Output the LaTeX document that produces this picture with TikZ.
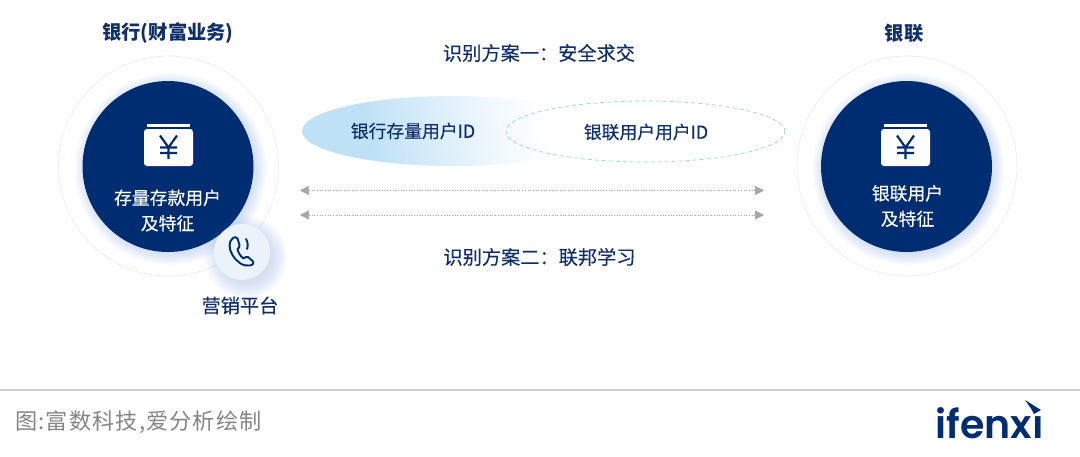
\documentclass[tikz,border=0pt]{standalone}
\usepackage{fontspec}
\setmainfont{Noto Sans CJK SC}
\newfontfamily\logofont{Poppins SemiBold}
\newfontfamily\footfont[LetterSpace=5]{Noto Sans CJK SC}
\newfontfamily\medfont[FakeBold=0.25]{Noto Sans CJK SC}
\usetikzlibrary{arrows.meta,shapes.geometric}
\definecolor{navy}{HTML}{002D72}
\definecolor{inkblue}{HTML}{0F2F6C}
\definecolor{glow}{HTML}{4F86EE}
\definecolor{ringgray}{HTML}{ECEEF2}
\definecolor{skyA}{HTML}{BFE1F6}
\definecolor{dashblue}{HTML}{8FD0F0}
\definecolor{arrowgray}{HTML}{A6A6A6}
\definecolor{phonebg}{HTML}{EBF2FA}
\pgfdeclarehorizontalshading{idfade}{100bp}{color(0bp)=(skyA); color(34bp)=(skyA); color(46bp)=(skyA!60!white); color(58bp)=(skyA!22!white); color(68bp)=(white); color(100bp)=(white)}
\tikzset{
  x=1pt,y=-1pt,
  ring/.style={circle,draw=ringgray,line width=.7pt,minimum size=220pt,inner sep=0pt},
  disc/.style={circle,fill=navy,minimum size=171pt,inner sep=0pt},
  title/.style={text=inkblue,font=\fontsize{19.3}{22}\selectfont\bfseries,inner sep=0pt},
  label/.style={text=inkblue,font=\medfont\fontsize{19.2}{22}\selectfont,inner sep=0pt},
  idtext/.style={text=inkblue,font=\medfont\fontsize{17.8}{20}\selectfont,inner sep=0pt},
  disctext/.style={text=white,font=\medfont\fontsize{17.8}{25.5}\selectfont,align=center,inner sep=0pt},
  biarrow/.style={{Triangle[length=9pt,width=9pt]}-{Triangle[length=9pt,width=9pt]},draw=arrowgray,fill=arrowgray,line width=.7pt,dotted},
  footer/.style={text=black!48,font=\footfont\fontsize{22.2}{24}\selectfont,inner sep=0pt}
}
\newcommand{\softglow}[4]{%
  \foreach \k in {1,...,12}{\fill[glow,opacity=0.02] (#1,#2) circle ({#3+\k*#4});}}
\newcommand{\walleticon}[2]{%
  \fill[white,rounded corners=3pt] (#1-24.5,#2-18) rectangle (#1+24.5,#2+19);
  \fill[white] (#1-21.5,#2-23) rectangle (#1+21.5,#2-20.5);
  \draw[navy,line width=2.2pt] (#1-8.5,#2-11.5) -- (#1,#2+.5) -- (#1+8.5,#2-11.5)
    (#1,#2+.5) -- (#1,#2+12) (#1-8.5,#2+.5) -- (#1+8.5,#2+.5) (#1-8.5,#2+6) -- (#1+8.5,#2+6);}
\begin{document}
\begin{tikzpicture}
\useasboundingbox (0,0) rectangle (1080,456);
\fill[white] (0,0) rectangle (1080,456);
% left group
\node[ring] (ringL) at (168.5,166) {};
\softglow{170.5}{169}{83}{1.1}
\node[disc] (discL) at (168,166.5) {};
\walleticon{168.5}{147}
\node[disctext] (textL) at (167.5,210.5) {存量存款用户\\及特征};
\node[title] (titleL) at (168,33) {银行(财富业务)};
% phone
\softglow{246}{257}{25}{1.4}
\node[circle,fill=phonebg,minimum size=56pt,inner sep=0pt] (phone) at (242,252) {};
\draw[navy,line width=1.9pt,line join=round,line cap=round]
  (233,238) .. controls (228.5,241) and (228.5,249) .. (232.5,255)
  .. controls (236,261) and (243,267) .. (250,265.5)
  .. controls (253.5,265) and (254.5,262) .. (252,260.5)
  -- (248,257) .. controls (246,256) and (245,258) .. (243.5,258.5)
  .. controls (240,256) and (238,252) .. (237.5,249)
  .. controls (238.5,248) and (240,247) .. (239.5,245)
  -- (237.5,238.5) .. controls (236.5,236.5) and (234.5,237) .. (233,238);
\draw[navy,line width=1.9pt,line cap=round] (246,239) .. controls (248,242) and (248,246) .. (247,249);
\node[label] (mkt) at (240,305.5) {营销平台};
% right group
\node[ring] (ringR) at (907,166) {};
\softglow{908.5}{169}{83}{1.1}
\node[disc] (discR) at (906.5,166.5) {};
\walleticon{905.5}{147}
\node[disctext] (textR) at (907.5,206) {银联用户\\及特征};
\node[title] (titleR) at (904,33) {银联};
% id ellipses
\begin{scope}
\clip (453,131) ellipse (151 and 35);
\shade[shading=idfade,shading angle=12] (302,96) rectangle (604,166);
\end{scope}
\node[draw=dashblue,dash pattern=on 4pt off 3pt,line width=.7pt,ellipse,minimum width=279pt,minimum height=61pt,inner sep=0pt] (idR) at (645.5,131.5) {};
\node[idtext] (idtL) at (413,131) {银行存量用户ID};
\node[idtext] (idtR) at (646,132) {银联用户用户ID};
\node[label] (planA) at (539,53) {识别方案一：安全求交};
\node[label] (planB) at (539.5,257) {识别方案二：联邦学习};
% arrows
\coordinate (a1) at (300,190.5); \coordinate (b1) at (764,190.5);
\coordinate (a2) at (300,215); \coordinate (b2) at (764,215);
\draw[biarrow] (a1) -- (b1);
\draw[biarrow] (a2) -- (b2);
% footer
\draw[black!18,line width=1.4pt] (0,390) -- (1080,390);
\node[footer,anchor=west] (src) at (15,422.5) {图:富数科技,爱分析绘制};
\node[anchor=base west,inner sep=0pt,text=navy,font=\logofont\fontsize{39.5}{41}\selectfont] (logo) at (935.5,438.5) {ifenxı};
\fill[navy] (1025,400) -- (1041,410) -- (1034,414) -- (1031,408.5) -- cycle;
\end{tikzpicture}
\end{document}
